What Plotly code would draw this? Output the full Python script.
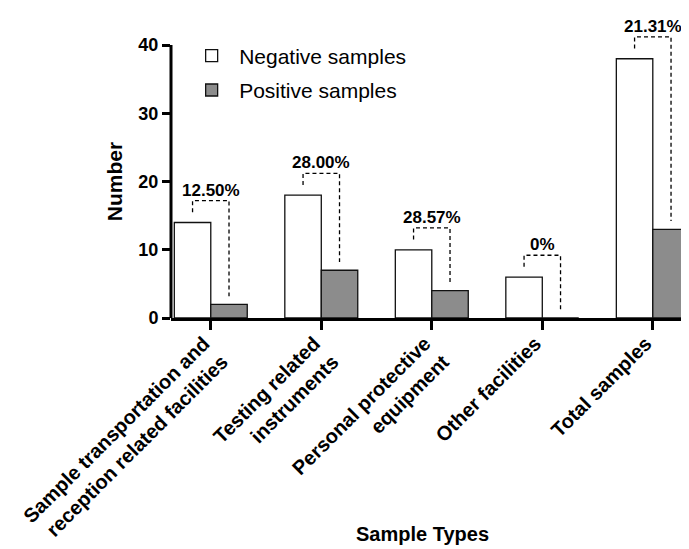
import plotly.graph_objects as go

# %%
categories = ["Sample transportation and<br>reception related facilities",
              "Testing related<br>instruments",
              "Personal protective<br>equipment",
              "Other facilities",
              "Total samples"]
negative = [14, 18, 10, 6, 38]
positive = [2, 7, 4, 0, 13]
rates = ["12.50%", "28.00%", "28.57%", "0%", "21.31%"]
yticks = [0, 10, 20, 30, 40]

font = "Liberation Sans, Arial, sans-serif"
grey = "#8c8c8c"
bargap = 0.34
half = (1 - bargap) / 4   # offset of each bar centre from the category centre
xpos = list(range(len(categories)))

# %%
fig = go.Figure()
fig.add_trace(go.Bar(x=xpos, y=negative, name="Negative samples",
                     marker=dict(color="white", line=dict(color="#111", width=1.3)),
                     legendgroup="neg"))
fig.add_trace(go.Bar(x=xpos, y=positive, name="Positive samples",
                     marker=dict(color=grey, line=dict(color="#111", width=1.3)),
                     legendgroup="pos"))

# dashed brackets joining each pair of bars, with the positive rate on top
for i, (n, p, r) in enumerate(zip(negative, positive, rates)):
    top = max(n, p) + 3.2
    fig.add_trace(go.Scatter(
        x=[i - half, i - half, i + half, i + half],
        y=[n + 1.5, top, top, p + 1.2],
        mode="lines", line=dict(color="black", width=1.3, dash="4px,3px"),
        showlegend=False, hoverinfo="skip"))
    fig.add_annotation(x=i, y=top, text="<b>%s</b>" % r, showarrow=False,
                       yanchor="bottom", yshift=-1,
                       font=dict(family=font, size=17, color="black"))

# y axis line only up to 40, the range goes higher to leave room for the brackets
fig.add_shape(type="line", xref="paper", yref="y", x0=0, x1=0, y0=0, y1=yticks[-1],
              line=dict(color="black", width=3))

# axis titles
fig.add_annotation(text="<b>Number</b>", textangle=-90, showarrow=False,
                   xref="paper", yref="y", x=-0.107, y=yticks[-1] / 2,
                   xanchor="center", yanchor="middle",
                   font=dict(family=font, size=21, color="black"))
fig.add_annotation(text="<b>Sample Types</b>", showarrow=False,
                   xref="paper", yref="paper", x=0.479, y=-0.705,
                   xanchor="center", yanchor="middle",
                   font=dict(family=font, size=20, color="black"))

fig.update_layout(
    width=689, height=549,
    margin=dict(l=163, r=0, t=3, b=239),
    paper_bgcolor="white", plot_bgcolor="white",
    barmode="group", bargap=bargap, bargroupgap=0,
    font=dict(family=font, color="black"),
    legend=dict(x=0.025, y=0.92, xanchor="left", yanchor="top",
                font=dict(size=21), tracegroupgap=4, itemwidth=45,
                bgcolor="rgba(0,0,0,0)"),
    showlegend=True,
)
fig.update_xaxes(
    range=[-0.36, 4.4], tickvals=xpos,
    ticktext=["<b>%s</b>" % c for c in categories],
    tickangle=-45, tickfont=dict(size=20),
    ticklabelshift=-7, ticklabelstandoff=-6,
    showline=True, linecolor="black", linewidth=3,
    ticks="outside", ticklen=9, tickwidth=3, tickcolor="black",
    showgrid=False, zeroline=False, automargin=False,
)
fig.update_yaxes(
    range=[0, 45], tickvals=yticks,
    ticktext=["<b>%d</b>" % v for v in yticks],
    tickfont=dict(size=18),
    showline=False, showgrid=False, zeroline=False, automargin=False,
    ticks="outside", ticklen=8, tickwidth=3, tickcolor="black",
)
fig.write_html("out.html")
